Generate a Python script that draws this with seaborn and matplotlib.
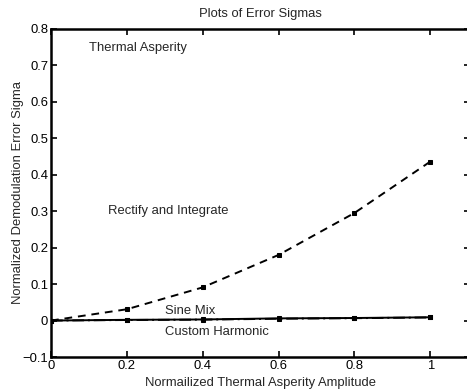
import matplotlib
matplotlib.use("Agg")
import matplotlib.pyplot as plt
import matplotlib.ticker as mticker
import numpy as np
import pandas as pd
import seaborn as sns

# Thermal asperity amplitude (normalized)
amplitude = [0.0, 0.2, 0.4, 0.6, 0.8, 1.0]
# Demodulation error sigma for each method
rectify_integrate = [0.0, 0.031, 0.091, 0.180, 0.295, 0.436]
sine_mix = [0.0, 0.002, 0.003, 0.006, 0.007, 0.009]
custom_harmonic = [0.0, 0.0015, 0.0025, 0.005, 0.0065, 0.0085]

x_ticks = [0, 0.2, 0.4, 0.6, 0.8, 1.0]
y_ticks = [-0.1, 0, 0.1, 0.2, 0.3, 0.4, 0.5, 0.6, 0.7, 0.8]

sns.set_theme(style="ticks")
plt.rcParams["font.family"] = ["Liberation Sans", "DejaVu Sans"]
plt.rcParams["axes.unicode_minus"] = True

FS = 9.4

fig = plt.figure(figsize=(4.67, 3.92), dpi=100)
ax = fig.add_axes([51 / 467, 35 / 392, 419 / 467, 328 / 392])

df = pd.DataFrame({
    "amp": amplitude * 3,
    "sigma": rectify_integrate + sine_mix + custom_harmonic,
    "method": ["Rectify and Integrate"] * 6 + ["Sine Mix"] * 6 + ["Custom Harmonic"] * 6,
})

styles = {
    "Rectify and Integrate": (0, (4, 3)),
    "Sine Mix": "-",
    "Custom Harmonic": (0, (6, 2, 1, 2)),
}
for name, grp in df.groupby("method", sort=False):
    sns.lineplot(data=grp, x="amp", y="sigma", ax=ax, color="black",
                 linestyle=styles[name], linewidth=1.4, marker="s",
                 markersize=3.3, markeredgecolor="black", legend=False)

ax.set_xlim(0, 1.105)
ax.set_ylim(-0.1, 0.8)
ax.set_xticks(x_ticks)
ax.set_yticks(y_ticks)
fmt = mticker.FuncFormatter(lambda v, p: ("%g" % round(v, 2)).replace("-", "\u2212"))
ax.xaxis.set_major_formatter(fmt)
ax.yaxis.set_major_formatter(fmt)

for side in ["left", "right", "top", "bottom"]:
    ax.spines[side].set_visible(True)
    ax.spines[side].set_linewidth(1.8)
    ax.spines[side].set_color("black")

ax.tick_params(direction="in", length=4, width=1.2, labelsize=FS,
               top=True, right=True, colors="black", pad=2)

ax.set_xlabel("Normailized Thermal Asperity Amplitude", fontsize=FS, labelpad=3.5)
ax.set_ylabel("Normalized Demodulation Error Sigma", fontsize=FS, labelpad=-1)
ax.set_title("Plots of Error Sigmas", fontsize=FS, pad=9)

ax.text(0.10, 0.748, "Thermal Asperity", fontsize=FS, va="center")
ax.text(0.15, 0.30, "Rectify and Integrate", fontsize=FS, va="center")
ax.text(0.30, 0.027, "Sine Mix", fontsize=FS, va="center")
ax.text(0.30, -0.031, "Custom Harmonic", fontsize=FS, va="center")

fig.savefig("out.png", dpi=100)
